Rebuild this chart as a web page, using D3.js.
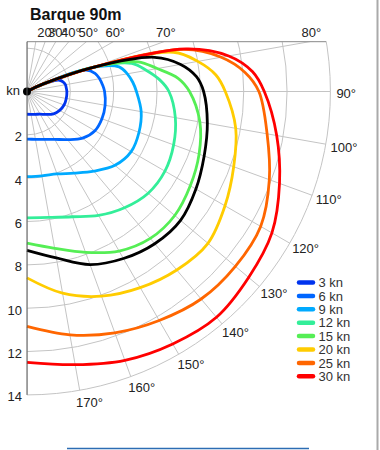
<!DOCTYPE html>
<html lang="en">
<head>
<meta charset="UTF-8">
<script src="https://d3js.org/d3.v7.min.js"></script>
<title>Barque 90m</title>
<style>
  body { margin: 0; background: #fff; }
  text { font-family: "Liberation Sans", Arial, sans-serif; }
</style>
</head>
<body>
<div id="chart"></div>
<script>
// true wind angles (deg) and boat speed (kn) for each wind strength
const angles = [60, 65, 70, 75, 80, 85, 90, 100, 110, 120, 130, 140, 150, 160, 170, 180];
const kn3  = [0, 0.8, 1.55, 1.72, 1.8, 1.82, 1.84, 1.84, 1.82, 1.74, 1.6, 1.38, 1.21, 1.12, 1.07, 1.05];
const kn6  = [0, 0.8, 2.9, 3.25, 3.4, 3.5, 3.58, 3.66, 3.68, 3.62, 3.35, 2.9, 2.55, 2.35, 2.24, 2.2];
const kn9  = [0, 0.8, 3.3, 4.4, 4.7, 4.9, 5.05, 5.35, 5.5, 5.55, 5.3, 4.8, 4.35, 4.05, 3.95, 3.93];
const kn12 = [0, 0.8, 3.3, 5.0, 5.6, 6.15, 6.55, 6.95, 7.2, 7.35, 7.3, 7.0, 6.6, 6.15, 5.9, 5.83];
const kn15 = [0, 0.8, 3.3, 5.3, 6.1, 7.0, 7.5, 8.1, 8.45, 8.7, 8.9, 8.85, 8.5, 7.9, 7.35, 7.0];
const kn20 = [0, 0.8, 3.3, 7.0, 8.0, 8.75, 9.15, 9.78, 10.15, 10.55, 10.9, 10.75, 10.45, 10.05, 9.45, 8.6];
const kn25 = [0, 0.8, 3.3, 7.5, 9.1, 10.1, 10.7, 11.25, 11.9, 12.45, 12.55, 12.5, 12.2, 11.85, 11.4, 10.84];
const kn30 = [0, 0.8, 3.3, 7.6, 9.45, 10.45, 10.95, 11.7, 12.4, 13.05, 13.35, 13.6, 13.45, 13.2, 12.8, 12.5];
// unlabelled black curve
const best = [0, 0.8, 3.3, 6.1, 7.2, 7.85, 8.15, 8.45, 8.7, 9.0, 9.25, 9.17, 8.9, 8.5, 7.8, 7.33];

const seriesNames = ["3 kn", "6 kn", "9 kn", "12 kn", "15 kn", "20 kn", "25 kn", "30 kn"];
const seriesValues = [kn3, kn6, kn9, kn12, kn15, kn20, kn25, kn30];
const colors = ["#0033ee", "#0066ff", "#00aaff", "#33ee99", "#55ee55", "#ffcc00", "#ff6600", "#ff0000"];

const radialTicks = [2, 4, 6, 8, 10, 12, 14];
const gridAngles = d3.range(0, 181, 10);
const topLabels = [20, 30, 40, 50, 60, 70, 80];
const sideLabels = [90, 100, 110, 120, 130, 140, 150, 160, 170];

const width = 380, height = 450;
const cx = 27, cy = 91.5, topY = 41.7;

const r = d3.scaleLinear().domain([0, 14]).range([0, 303.4]);
const a = d3.scaleLinear().domain([0, 360]).range([0, 2 * Math.PI]);

const svg = d3.select("#chart").append("svg")
    .attr("width", width)
    .attr("height", height);

svg.append("text")
    .attr("x", 30).attr("y", 20)
    .attr("font-size", 16).attr("font-weight", "bold")
    .attr("fill", "#111")
    .text("Barque 90m");

const defs = svg.append("defs");
defs.append("clipPath").attr("id", "gridclip")
    .append("rect").attr("x", cx).attr("y", topY).attr("width", 360).attr("height", 400);
defs.append("clipPath").attr("id", "plotclip")
    .append("rect").attr("x", 0).attr("y", topY).attr("width", 360).attr("height", 400);

const plot = svg.append("g").attr("transform", `translate(${cx},${cy})`);
const grid = plot.append("g").attr("clip-path", "url(#gridclip)")
    .attr("transform", `translate(${-cx},${-cy})`)
    .append("g").attr("transform", `translate(${cx},${cy})`);

// radial grid circles
grid.selectAll("circle.g")
    .data(radialTicks)
    .enter().append("circle")
    .attr("r", d => r(d))
    .attr("fill", "none")
    .attr("stroke", "#c4c4c4")
    .attr("stroke-width", 1);

// spokes
grid.selectAll("line.s")
    .data(gridAngles)
    .enter().append("line")
    .attr("x1", 0).attr("y1", 0)
    .attr("x2", d => r(14) * Math.sin(a(d)))
    .attr("y2", d => -r(14) * Math.cos(a(d)))
    .attr("stroke", "#c4c4c4")
    .attr("stroke-width", 1);

// frame lines
const topX = Math.sqrt(r(14) * r(14) - (cy - topY) * (cy - topY));
svg.append("line")
    .attr("x1", cx).attr("y1", topY).attr("x2", cx + topX).attr("y2", topY)
    .attr("stroke", "#888").attr("stroke-width", 1);
svg.append("line")
    .attr("x1", cx).attr("y1", topY).attr("x2", cx).attr("y2", cy + r(14))
    .attr("stroke", "#555").attr("stroke-width", 1);

// radial axis labels
svg.selectAll("text.rl")
    .data(radialTicks)
    .enter().append("text")
    .attr("x", 22)
    .attr("y", d => cy + r(d) + 6.5)
    .attr("text-anchor", "end")
    .attr("font-size", 13)
    .attr("fill", "#222")
    .text(d => d);
svg.append("text")
    .attr("x", 20).attr("y", 95)
    .attr("text-anchor", "end")
    .attr("font-size", 13)
    .attr("fill", "#222")
    .text("kn");

// angle labels along the top edge
svg.selectAll("text.tl")
    .data(topLabels)
    .enter().append("text")
    .attr("x", d => cx + (cy - topY) * Math.tan(a(d)) + 2)
    .attr("y", 37)
    .attr("text-anchor", "middle")
    .attr("font-size", 13)
    .attr("fill", "#222")
    .text(d => d + "°");

// angle labels round the rim
svg.selectAll("text.sl")
    .data(sideLabels)
    .enter().append("text")
    .attr("x", d => cx + r(14) * Math.sin(a(d)) + 6 - (d - 90) * 0.12)
    .attr("y", d => cy - r(14) * Math.cos(a(d)) + 6 + (d - 90) * 0.14)
    .attr("font-size", 13)
    .attr("fill", "#222")
    .text(d => d + "°");

// polar curves
const line = d3.lineRadial()
    .angle(d => a(d[0]))
    .radius(d => r(d[1]))
    .curve(d3.curveCatmullRom.alpha(0.5));

const curves = plot.append("g").attr("clip-path", "url(#plotclip)")
    .attr("transform", `translate(${-cx},${-cy})`)
    .append("g").attr("transform", `translate(${cx},${cy})`);

seriesValues.forEach((vals, i) => {
    curves.append("path")
        .datum(angles.map((ang, j) => [ang, vals[j]]))
        .attr("d", line)
        .attr("fill", "none")
        .attr("stroke", colors[i])
        .attr("stroke-width", 2.8);
});
curves.append("path")
    .datum(angles.map((ang, j) => [ang, best[j]]))
    .attr("d", line)
    .attr("fill", "none")
    .attr("stroke", "#000")
    .attr("stroke-width", 2.8);

plot.append("circle").attr("r", 4).attr("fill", "#000");

// legend
const legend = svg.append("g");
const ly0 = 282.5, lstep = 13.4;
seriesNames.forEach((name, i) => {
    const y = ly0 + i * lstep;
    legend.append("line")
        .attr("x1", 299).attr("x2", 313)
        .attr("y1", y).attr("y2", y)
        .attr("stroke", colors[i])
        .attr("stroke-width", 4.5)
        .attr("stroke-linecap", "round");
    legend.append("text")
        .attr("x", 318.5).attr("y", y + 4.6)
        .attr("font-size", 13)
        .attr("fill", "#333")
        .text(name);
});

// page edges seen in the capture
svg.append("line")
    .attr("x1", 377.5).attr("x2", 377.5).attr("y1", 0).attr("y2", height)
    .attr("stroke", "#aaa").attr("stroke-width", 2);
svg.append("line")
    .attr("x1", 67).attr("x2", 309).attr("y1", 448.5).attr("y2", 448.5)
    .attr("stroke", "#2c6db3").attr("stroke-width", 1.5);
</script>
</body>
</html>
